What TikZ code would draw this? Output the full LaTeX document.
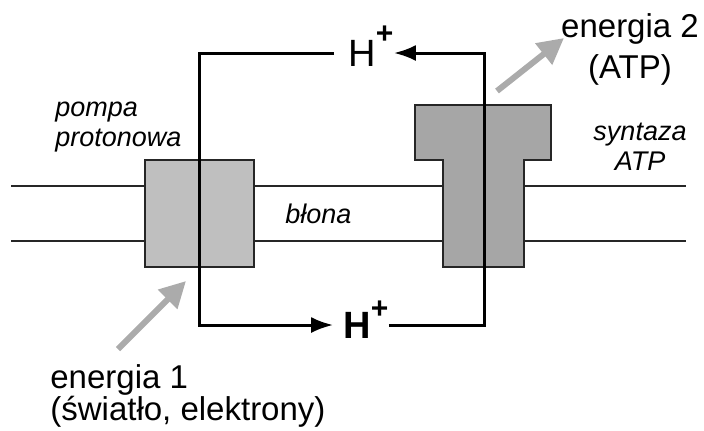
\documentclass[tikz,border=0pt]{standalone}
\usepackage{fontspec}
\setmainfont{Liberation Sans}
\usetikzlibrary{arrows.meta}
\newcommand{\hplus}[1]{H\raisebox{#1}{\fontsize{15}{15}\selectfont\bfseries +}}
\begin{document}
\begin{tikzpicture}[x=0.5pt, y=-0.5pt,
        pump/.style={rectangle, draw=black!85, fill=black!25, line width=0.75pt, minimum width=54.5pt, minimum height=53.5pt, inner sep=0pt},
        synth/.style={draw=black!85, fill=black!35, line width=0.75pt},
        membrane/.style={draw=black!85, line width=0.75pt},
        proton/.style={draw=black, line width=1.5pt},
        energy/.style={draw=black!33, line width=3pt, -{Triangle[length=13pt, width=13pt]}},
        hion/.style={inner sep=0pt, text height=13.6pt, text depth=0pt, font=\fontsize{19}{19}\selectfont},
        lab/.style={font=\fontsize{13.5}{15}\selectfont\itshape, inner sep=0pt},
        big/.style={font=\fontsize{16.5}{16}\selectfont, inner sep=0pt}
    ]
        \useasboundingbox (0,0) rectangle (704,430);

        % Membrane
        \draw[membrane] (11,186) -- (686,186);
        \draw[membrane] (11,241) -- (686,241);

        % Proton pump
        \node[pump] (pump) at (199.5,213.5) {};
        \node[lab, align=left, anchor=base west] (pompa) at (55,146) {pompa\\protonowa};

        % ATP synthase
        \filldraw[synth] (415,105) -- (551,105) -- (551,160) -- (524,160) -- (524,267) -- (443,267) -- (443,160) -- (415,160) -- cycle;
        \coordinate (syn) at (484,213);
        \node[lab, align=center, anchor=base] (syntaza) at (640,170) {syntaza\\ATP};

        \node[lab, anchor=base west] (blona) at (285,223) {błona};

        % Protons
        \node[hion] (htop) at (371,53) {\hplus{11.5pt}};
        \node[hion, font=\fontsize{19}{19}\selectfont\bfseries] (hbot) at (366,325) {\hplus{10pt}};
        \draw[proton, shorten <=7pt, shorten >=5pt, -{Latex[length=11pt, width=8pt]}] (htop.west) -| (pump.center) |- (hbot.west);
        \draw[proton, -{Latex[length=11pt, width=8pt]}] (hbot.east) -| (syn) |- (htop.east);

        % Energy
        \node[big, align=left, anchor=base west] (en1) at (50,420) {energia 1\\(światło, elektrony)};
        \node[big, font=\fontsize{16.5}{20.5}\selectfont, align=center, anchor=base] (en2) at (630,78) {energia 2\\(ATP)};
        \coordinate (e1s) at (118,349);
        \coordinate (e1e) at (186,281);
        \coordinate (e2s) at (497,91);
        \coordinate (e2e) at (564,38);
        \draw[energy] (e1s) -- (e1e);
        \draw[energy] (e2s) -- (e2e);
    \end{tikzpicture}
\end{document}
